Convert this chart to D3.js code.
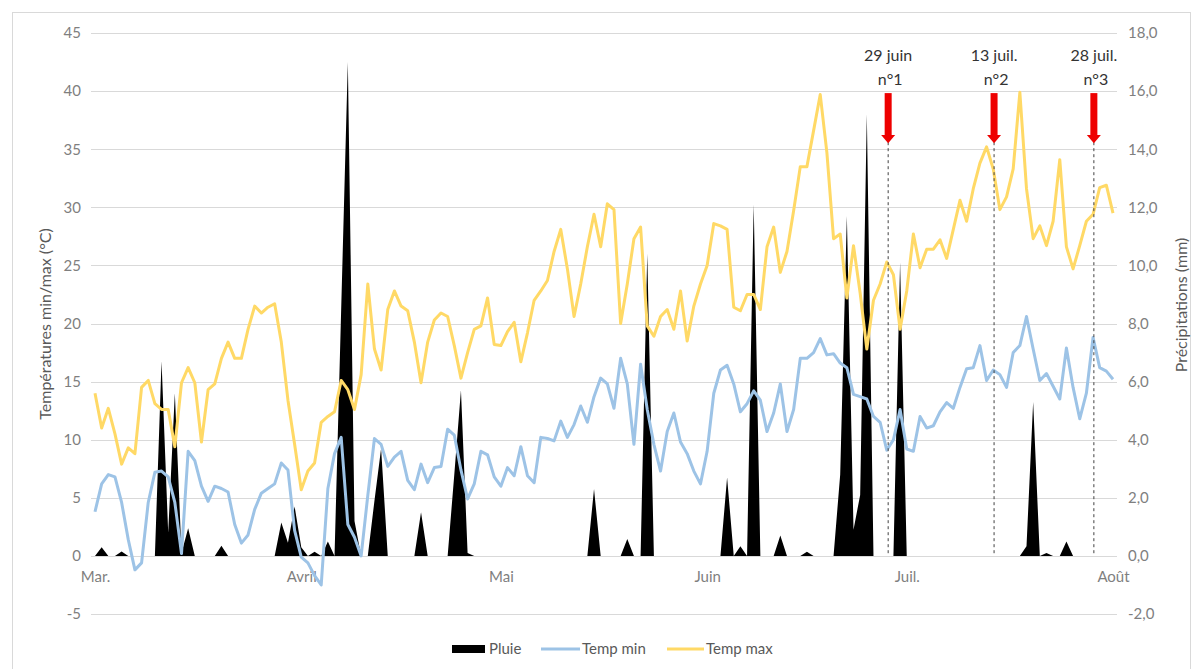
<!DOCTYPE html>
<html><head><meta charset="utf-8">
<script src="https://cdn.jsdelivr.net/npm/d3@7"></script>
<style>
body{margin:0;background:#fff;}
svg text{font-family:Lato,"Open Sans",sans-serif;}
</style></head>
<body><svg id="c" width="1199" height="669"></svg>
<script>
// ---- DATA ----
const startDate = "2021-03-01"; // daily series, 1 March -> 1 August
const tempMax = [14.0,11.0,12.7,10.5,7.9,9.3,8.8,14.5,15.1,13.1,12.6,12.6,9.4,14.9,16.2,14.9,9.8,14.3,14.8,17.0,
18.4,17.0,17.0,19.5,21.5,20.9,21.4,21.7,18.4,13.4,9.6,5.7,7.3,8.0,11.5,12.0,12.4,15.1,14.3,12.6,
15.6,23.4,17.8,16.0,21.2,22.8,21.5,21.1,18.4,14.9,18.4,20.3,20.9,20.6,18.1,15.3,17.5,19.5,19.8,22.2,
18.2,18.1,19.3,20.1,16.7,19.2,22.0,22.8,23.7,26.2,28.1,24.7,20.6,23.4,26.6,29.4,26.6,30.3,29.8,20.0,
23.4,27.3,28.3,19.8,18.9,20.6,21.2,19.5,22.8,18.5,21.5,23.4,25.0,28.6,28.4,28.1,21.4,21.1,22.5,22.5,
21.2,26.6,28.3,24.4,26.2,29.7,33.5,33.5,36.6,39.7,34.7,27.3,27.7,22.2,26.7,22.6,17.8,22.0,23.4,25.3,
24.2,19.5,22.8,27.7,24.8,26.4,26.4,27.2,25.6,28.1,30.6,28.8,31.6,33.8,35.2,33.3,29.8,30.9,33.3,39.9,
31.6,27.3,28.4,26.7,28.8,34.1,26.6,24.7,26.7,28.8,29.4,31.7,31.9,29.5];
const tempMin = [3.8,6.2,7.0,6.8,4.6,1.4,-1.2,-0.6,4.6,7.2,7.3,6.8,4.6,0.2,9.0,8.2,6.0,4.7,6.0,5.8,
5.5,2.7,1.1,1.8,4.0,5.4,5.8,6.2,8.0,7.4,2.2,-0.1,-0.6,-1.7,-2.5,5.8,8.8,10.2,2.7,1.6,
0.0,5.2,10.1,9.6,7.7,8.5,9.0,6.5,5.7,7.9,6.3,7.6,7.7,10.9,10.4,7.4,4.9,6.2,9.0,8.7,
6.8,6.0,7.6,6.9,9.4,6.9,6.3,10.2,10.1,9.9,11.6,10.2,11.3,12.9,11.5,13.7,15.3,14.8,12.7,17.0,
14.8,9.6,16.5,12.6,9.6,7.3,10.7,12.3,9.8,8.8,7.3,6.2,9.0,14.0,16.0,16.4,14.8,12.4,13.1,14.2,
13.4,10.7,12.3,14.8,10.7,12.6,17.0,17.0,17.5,18.7,17.3,17.4,16.6,16.2,13.9,13.7,13.5,12.0,11.5,9.1,
10.0,12.6,9.2,9.0,12.0,11.0,11.2,12.4,13.2,12.7,14.5,16.1,16.2,18.1,15.1,16.0,15.6,14.5,17.5,18.1,
20.6,17.8,15.1,15.7,14.6,13.5,17.9,14.5,11.8,14.0,18.8,16.2,15.9,15.2];
const pluie = [0,0.3,0,0,0.15,0,0,0,0,0,6.7,0.8,5.6,0.1,0.95,0,0,0,0,0.35,
0,0,0,0,0,0,0,0,1.15,0.45,1.7,0.3,0,0.14,0,0.5,0,8.5,17.0,1.2,
0,0,1.9,3.7,0,0,0,0,0,1.5,0,0,0,0,2.8,5.7,0.1,0,0,0,
0,0,0,0,0,0,0,0,0,0,0,0,0,0,0,2.3,0,0,0,0,
0.58,0,0,10.4,0,0,0,0,0,0,0,0,0,0,0,2.7,0,0.33,0,12.1,
0,0,0,0.7,0,0,0,0.14,0,0,0,0,2.8,11.7,0.9,2.1,15.2,0,0,0,
0,10.1,0,0,0,0,0,0,0,0,0,0,0,0,0,0,0,0,0,0,
0.33,5.3,0,0.1,0,0,0.5,0,0,0,0,0,0,0];
const monthTicks = ["2021-03-01","2021-04-01","2021-05-01","2021-06-01","2021-07-01","2021-08-01"];
const monthLabels = ["Mar.","Avril","Mai","Juin","Juil.","Août"];
const leftTicks = [-5,0,5,10,15,20,25,30,35,40,45];
const rightTicks = [-2,0,2,4,6,8,10,12,14,16,18];
// treatment markers (drawn positions as in the original figure)
const markDates = ["2021-06-28T05:00","2021-07-14T03:00","2021-07-29T03:00"];
const markLine1 = ["29 juin","13 juil.","28 juil."];
const markLine2 = ["n°1","n°2","n°3"];
const legendNames = ["Pluie","Temp min","Temp max"];

// ---- CHART ----
const svg = d3.select("#c");
const parse = d3.isoParse;
const t0 = parse(startDate + "T00:00");
const dates = tempMax.map((_, i) => d3.timeDay.offset(t0, i));
const x = d3.scaleTime().domain([t0, dates[dates.length-1]]).range([95, 1113]);
const yL = d3.scaleLinear().domain([-5, 45]).range([614, 33]);
const yR = d3.scaleLinear().domain([-2, 18]).range([614, 33]);
const cYellow = "#FFD966", cBlue = "#9DC3E6", cText = "#7f7f7f";

// chart border
svg.append("rect").attr("x",12.5).attr("y",12.5).attr("width",1178).attr("height",680)
  .attr("fill","none").attr("stroke","#d9d9d9");

// gridlines
svg.append("g").selectAll("line").data(leftTicks).join("line")
  .attr("x1",91).attr("x2",1117)
  .attr("y1",d=>Math.round(yL(d))+0.5).attr("y2",d=>Math.round(yL(d))+0.5)
  .attr("stroke","#d9d9d9").attr("stroke-width",1);

// left axis
const gL = svg.append("g").attr("transform","translate(91,0)")
  .call(d3.axisLeft(yL).tickValues(leftTicks).tickSize(0).tickPadding(10)
    .tickFormat(d=>String(d)));
gL.select(".domain").remove();
gL.selectAll("text").attr("fill",cText).style("font-size","15px");
// right axis
const gR = svg.append("g").attr("transform","translate(1117,0)")
  .call(d3.axisRight(yR).tickValues(rightTicks).tickSize(0).tickPadding(11)
    .tickFormat(d=>d.toFixed(1).replace(".",",")));
gR.select(".domain").remove();
gR.selectAll("text").attr("fill",cText).style("font-size","15px");
// bottom axis labels
const gB = svg.append("g").attr("transform","translate(0,"+yL(0)+")")
  .call(d3.axisBottom(x).tickValues(monthTicks.map(s=>parse(s+"T00:00"))).tickSize(0).tickPadding(15)
    .tickFormat((d,i)=>monthLabels[i]));
gB.select(".domain").remove();
gB.selectAll("text").attr("fill",cText).style("font-size","15px");

// axis titles
svg.append("text").attr("transform","translate(51,324) rotate(-90)").attr("text-anchor","middle")
  .attr("fill","#595959").style("font-size","16px").text("Températures min/max (°C)");
svg.append("text").attr("transform","translate(1187,305) rotate(-90)").attr("text-anchor","middle")
  .attr("fill","#595959").style("font-size","16px").text("Précipitations (mm)");

// rain area
const area = d3.area().x((d,i)=>x(dates[i])).y0(yR(0)).y1(d=>yR(d));
svg.append("path").datum(pluie).attr("d",area).attr("fill","#000");

// temperature lines
const line = d3.line().x((d,i)=>x(dates[i])).y(d=>yL(d));
svg.append("path").datum(tempMin).attr("d",line).attr("fill","none")
  .attr("stroke",cBlue).attr("stroke-width",3).attr("stroke-linejoin","round");
svg.append("path").datum(tempMax).attr("d",line).attr("fill","none")
  .attr("stroke",cYellow).attr("stroke-width",3).attr("stroke-linejoin","round");

// treatment markers
const gM = svg.append("g");
markDates.forEach((s,i)=>{
  const mx = x(parse(s));
  gM.append("line").attr("x1",mx).attr("x2",mx).attr("y1",yL(35)-7).attr("y2",yL(0))
    .attr("stroke","#404040").attr("stroke-width",1).attr("stroke-dasharray","3,3");
  gM.append("rect").attr("x",mx-3.5).attr("y",yL(40)+2).attr("width",7).attr("height",43).attr("fill","#ee0000");
  gM.append("path").attr("d",`M${mx-7},${yL(40)+44}L${mx+7},${yL(40)+44}L${mx},${yL(35)-6}Z`).attr("fill","#ee0000");
  gM.append("text").attr("x",mx).attr("y",61).attr("text-anchor","middle").attr("fill","#333")
    .style("font-size","16px").text(markLine1[i]);
  gM.append("text").attr("x",mx+2).attr("y",85).attr("text-anchor","middle").attr("fill","#333")
    .style("font-size","16px").text(markLine2[i]);
});

// legend
const lg = svg.append("g").attr("transform","translate(0,649)");
lg.append("rect").attr("x",452).attr("y",-4).attr("width",33).attr("height",8).attr("fill","#000");
lg.append("text").attr("x",489).attr("y",5).attr("fill","#595959").style("font-size","15px").text(legendNames[0]);
lg.append("line").attr("x1",541).attr("x2",580).attr("y1",0).attr("y2",0).attr("stroke",cBlue).attr("stroke-width",3);
lg.append("text").attr("x",582).attr("y",5).attr("fill","#595959").style("font-size","15px").text(legendNames[1]);
lg.append("line").attr("x1",667).attr("x2",704).attr("y1",0).attr("y2",0).attr("stroke",cYellow).attr("stroke-width",3);
lg.append("text").attr("x",706).attr("y",5).attr("fill","#595959").style("font-size","15px").text(legendNames[2]);
</script></body></html>
